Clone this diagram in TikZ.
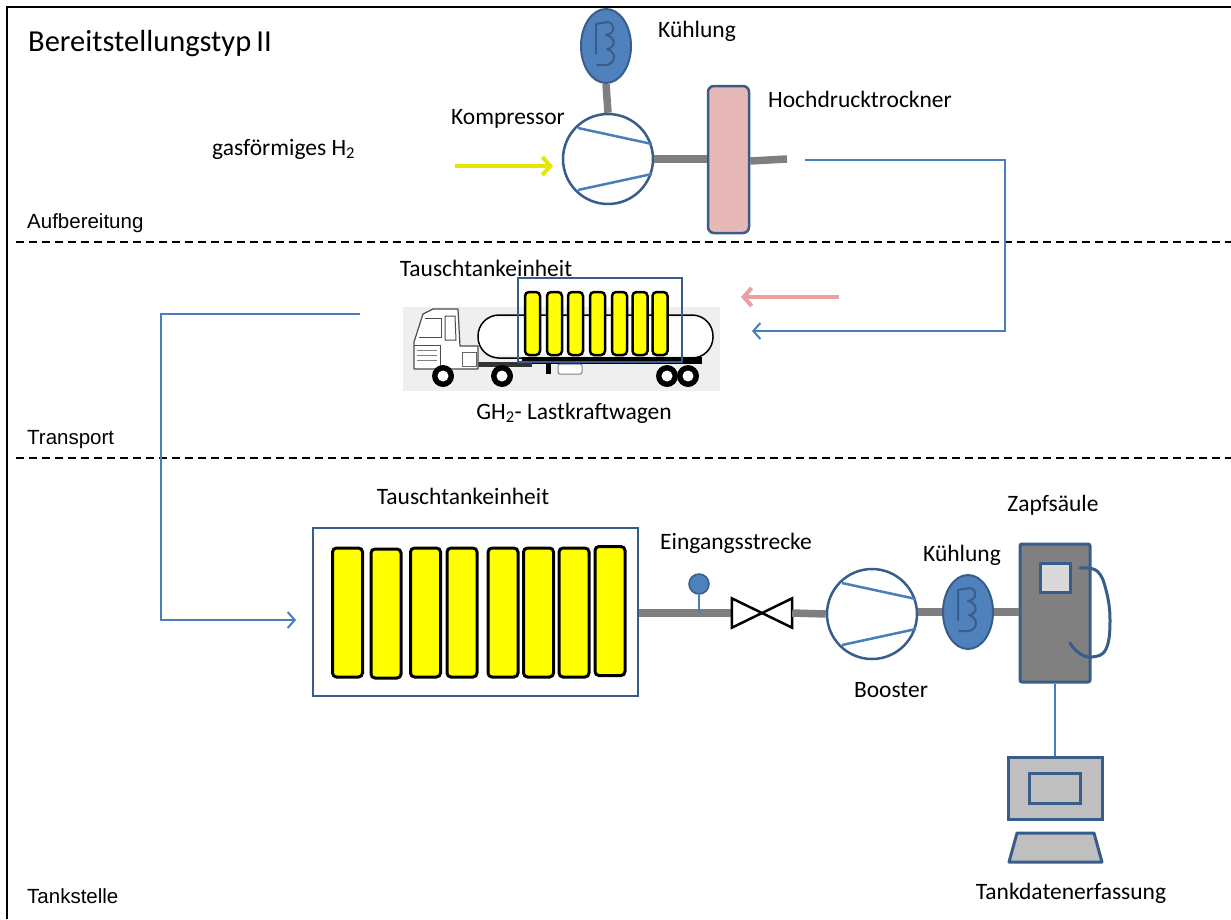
\documentclass[tikz,border=0pt]{standalone}
\usepackage{fontspec}
\setmainfont{Carlito}
\newfontfamily\arialfont{Liberation Sans}
\usetikzlibrary{shapes.geometric,arrows.meta}

\definecolor{fillblue}{HTML}{4F81BD}
\definecolor{edgeblue}{HTML}{385D8A}
\definecolor{lineblue}{HTML}{4A7EBB}
\definecolor{pipegray}{HTML}{7F7F7F}
\definecolor{dryerpink}{HTML}{E6B9B8}
\definecolor{arrowpink}{HTML}{E8A0A0}
\definecolor{gasyellow}{HTML}{E6E600}
\definecolor{tankyellow}{HTML}{FFFF00}
\definecolor{screengray}{HTML}{BFBFBF}
\definecolor{pumpgray}{HTML}{808080}
\definecolor{panelgray}{HTML}{D9D9D9}
\definecolor{truckbg}{HTML}{EFEFEF}

% cylindrical look of the trailer tank: dark rims, white body
\pgfdeclareverticalshading{tankshade}{100bp}{color(0bp)=(black!70); color(30bp)=(white);
  color(70bp)=(white); color(100bp)=(black!35)}

\begin{document}
\begin{tikzpicture}[x=1pt,y=-1pt,
  lbl/.style={font=\fontsize{23.5}{28}\selectfont, inner sep=0pt},
  seclbl/.style={font=\arialfont\fontsize{20.5}{24}\selectfont, inner sep=0pt, anchor=west},
  frameline/.style={line width=2pt, black},
  zoneline/.style={line width=1.5pt, black, dash pattern=on 8pt off 5pt},
  cooler/.style={ellipse, draw=edgeblue, fill=fillblue, line width=2pt,
    minimum width=50pt, minimum height=74pt, inner sep=0pt},
  compressor/.style={circle, draw=edgeblue, fill=white, line width=2.5pt,
    minimum size=90pt, inner sep=0pt},
  pipe/.style={draw=pipegray, line width=7.5pt},
  flow/.style={draw=lineblue, line width=2pt},
  flowtip/.style={-{Straight Barb[length=7pt,width=16pt,line width=2pt]}},
  tankbar/.style={draw=black, line width=3pt, fill=tankyellow, rounded corners=4pt,
    inner sep=0pt},
  unitbox/.style={draw=edgeblue, line width=2.5pt, inner sep=0pt},
  pics/impeller/.style={code={
    \draw[lineblue, line width=2.5pt] (-30,-31) -- (44,-15);
    \draw[lineblue, line width=2.5pt] (-30,31) -- (44,15);
  }},
  pics/coil/.style={code={
    \draw[edgeblue, line width=2pt, line join=round, line cap=round]
      (-10,8) -- (-10,-22) -- (2,-24)
      .. controls (10,-22) and (9,-12) .. (0,-11)
      .. controls (10,-9) and (10,2) .. (1,3)
      .. controls (11,6) and (10,18) .. (0,19) -- (-9,19);
  }}
]
\useasboundingbox (0,0) rectangle (1231,919);

% ---- frame and zone separators ----
\draw[frameline] (7,919) -- (7,7) -- (1231,7);
\draw[zoneline] (16,242) -- (1231,242);
\draw[zoneline] (16,458) -- (1231,458);

\node[anchor=west, inner sep=0pt, font=\fontsize{30.5}{36}\selectfont] (title) at (28,44) {Bereitstellungstyp\,II};
\node[seclbl] (zprep) at (27,223) {Aufbereitung};
\node[seclbl] (ztrans) at (27,440) {Transport};
\node[seclbl] (zstation) at (27,896) {Tankstelle};

% ---- preparation: compressor, cooler, high pressure dryer ----
\node[cooler] (cool1) at (606,46) {};
\pic at (cool1.center) {coil};
\node[compressor] (comp) at (608,159) {};
\pic at (comp.center) {impeller};
\node[draw=edgeblue, fill=dryerpink, line width=2.5pt, rounded corners=6pt,
  minimum width=41pt, minimum height=147pt, inner sep=0pt] (dryer) at (728.5,159.5) {};
\coordinate (dryerout) at (787,159);
\draw[pipe] (cool1.south) -- (comp.north);
\draw[pipe] (comp.east) -- (dryer.west |- comp.east);
\draw[pipe] (dryer.east |- 0,161) -- (dryerout);

\node[lbl] (lcool1) at (697,31) {Kühlung};
\node[lbl, anchor=west] (ldryer) at (768,99) {Hochdrucktrockner};
\node[lbl] (lcomp) at (508,119) {Kompressor};
\node[lbl, anchor=west] (lgas) at (212,149) {gasförmiges H\textsubscript{2}};

\coordinate (gasin) at (455,166);
\coordinate (gasend) at (553,166);
\draw[gasyellow, line width=4pt, -{Straight Barb[length=8pt,width=18pt,line width=4pt]}] (gasin) -- (gasend);

% ---- transport: truck with exchangeable tank unit ----
\fill[truckbg] (403,307) rectangle (720,391);
% trailer tank
\draw[black, line width=1.5pt, rounded corners=21pt, shading=tankshade] (478,315) rectangle (713,358);
% trailer chassis
\fill[black] (522,357) rectangle (702,364);
\fill[black] (546,362) rectangle (551,374);
\draw[gray, fill=white, line width=1pt, rounded corners=2pt] (558,364) rectangle (582,374);
% tractor chassis and cab
\fill[black!80] (440,362) rectangle (532,367);
\draw[black!70, fill=white, line width=1.2pt, line join=round]
  (414,369) -- (414,342) -- (423,314) -- (433,309) -- (458,309) -- (460,346)
  -- (478,346) -- (478,369) -- cycle;
\draw[black!70, line width=1pt] (425,318) -- (441,318) -- (441,337) -- (419,337);
\draw[black!70, line width=1pt] (445,316) -- (455,316) -- (456,340) -- (445,340) -- cycle;
\draw[black!70, line width=1pt] (414,345) -- (440,345) -- (440,369);
\draw[black!50, line width=0.8pt] (417,350) -- (437,350) (417,355) -- (437,355) (417,360) -- (437,360);
\draw[black!60, line width=1pt] (462,352) rectangle (476,366);
% wheels
\foreach \wx/\wn in {443/w1, 502/w2, 667/w3, 688/w4}{
  \node[circle, fill=black, minimum size=22pt, inner sep=0pt] (\wn) at (\wx,376) {};
  \node[circle, fill=white, minimum size=11pt, inner sep=0pt] at (\wn) {};
}
% exchangeable tank unit on the truck
\node[draw=edgeblue, line width=2pt, minimum width=164pt, minimum height=84pt, inner sep=0pt] (tutruck) at (600,320) {};
\foreach \bx [count=\i] in {532.5,554.5,575.5,597.5,619.5,640,660}{
  \node[tankbar, line width=2.5pt, minimum width=15pt, minimum height=63pt] (tbar\i) at (\bx,323.5) {};
}
\node[lbl] (ltutruck) at (486,268) {Tauschtankeinheit};
\node[lbl] (ltruck) at (574,413) {GH\textsubscript{2}- Lastkraftwagen};

% flows between the zones
\coordinate (retstart) at (805,160);
\coordinate (retend) at (752,331);
\draw[flow, flowtip] (retstart) -- (1005,160) -- (1005,331) -- (retend);
\coordinate (pinkstart) at (839,297);
\coordinate (pinkend) at (741,297);
\draw[arrowpink, line width=4pt, -{Straight Barb[length=8pt,width=18pt,line width=4pt]}] (pinkstart) -- (pinkend);
\coordinate (delstart) at (360,314);
\coordinate (delend) at (296,620);
\draw[flow, flowtip] (delstart) -- (161,314) -- (161,620) -- (delend);

% ---- filling station ----
\node[unitbox, minimum width=325pt, minimum height=168pt] (tubox) at (475.5,612) {};
\foreach \bx/\by [count=\i] in {347.5/612.5, 386/613.5, 425.5/612.5, 462/612.5, 503/612.5, 538.5/612.5, 574/612.5, 610/611}{
  \node[tankbar, minimum width=30pt, minimum height=129pt] (sbar\i) at (\bx,\by) {};
}
\node[lbl] (ltubox) at (463,496) {Tauschtankeinheit};

% inlet line with gauge and valve
\node[minimum width=60pt, minimum height=29pt, inner sep=0pt] (valve) at (762,613) {};
\node[circle, draw=edgeblue, fill=fillblue, line width=1.5pt, minimum size=20pt, inner sep=0pt] (gauge) at (699,584) {};
\draw[pipe] (tubox.east |- valve) -- (valve.west);
\draw[lineblue, line width=1.5pt] (gauge.south) -- (gauge.south |- valve.center);
\draw[black, line width=2.5pt, line join=miter, fill=white]
  (valve.north west) -- (valve.south east) -- (valve.north east) -- (valve.south west) -- cycle;

\node[compressor] (boost) at (872,614) {};
\pic at (boost.center) {impeller};
\node[cooler] (cool2) at (968,612) {};
\pic at (cool2.center) {coil};

% dispenser
\node[draw=edgeblue, fill=pumpgray, line width=3pt, rounded corners=2pt,
  minimum width=70pt, minimum height=138pt, inner sep=0pt] (disp) at (1055,613) {};
\node[draw=edgeblue, fill=panelgray, line width=3pt, minimum width=30pt,
  minimum height=29pt, inner sep=0pt] (dispscreen) at (1055,577.5) {};
\draw[edgeblue, line width=3pt, line cap=round]
  plot[smooth, tension=0.7] coordinates {(1080,568) (1097,571) (1106,590) (1110,620) (1106,649) (1092,657) (1079,653) (1070,643)};

\draw[pipe] (valve.east) -- (boost.west);
\draw[pipe] (boost.east |- cool2.west) -- (cool2.west);
\draw[pipe] (cool2.east) -- (disp.west |- cool2.east);

\node[lbl] (lvalve) at (736,543) {Eingangsstrecke};
\node[lbl] (lcool2) at (962,555) {Kühlung};
\node[lbl] (ldisp) at (1053,505) {Zapfsäule};
\node[lbl] (lboost) at (891,690) {Booster};

% tank data terminal
\node[draw=edgeblue, fill=screengray, line width=3pt, minimum width=94pt,
  minimum height=62pt, inner sep=0pt] (monitor) at (1055,788) {};
\node[draw=edgeblue, fill=screengray, line width=3pt, minimum width=51pt,
  minimum height=30pt, inner sep=0pt] (monscreen) at (1054.5,788) {};
\draw[lineblue, line width=2pt] (disp.south) -- (monitor.north);
\draw[edgeblue, fill=screengray, line width=3pt, line join=round]
  (1017,833) -- (1094,833) -- (1102,862) -- (1009,862) -- cycle;
\node[lbl] (lterm) at (1071,893) {Tankdatenerfassung};

\end{tikzpicture}
\end{document}
